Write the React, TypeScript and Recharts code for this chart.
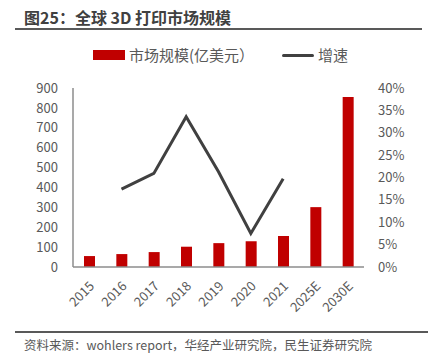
import React from "react";
import { ComposedChart, Bar, Line, XAxis, YAxis } from "recharts";

const categories = ["2015", "2016", "2017", "2018", "2019", "2020", "2021", "2025E", "2030E"];
const marketSize = [55, 65, 75, 102, 120, 130, 156, 301, 855];
const growth: (number | null)[] = [null, 0.174, 0.209, 0.336, 0.213, 0.075, 0.197, null, null];
const leftTicks = [0, 100, 200, 300, 400, 500, 600, 700, 800, 900];
const rightTicks = [0, 0.05, 0.1, 0.15, 0.2, 0.25, 0.3, 0.35, 0.4];

const data = categories.map((c, i) => ({ name: c, size: marketSize[i], growth: growth[i] }));

const FONT = "'Noto Sans CJK SC', 'Noto Sans', sans-serif";
const TICK_COLOR = "#595959";

const XTick = (props: any) => {
  const { x, y, payload } = props;
  return (
    <g transform={`translate(${x + 6},${y + 12})`}>
      <text
        x={0}
        y={0}
        textAnchor="end"
        transform="rotate(-45)"
        fill={TICK_COLOR}
        fontSize={13}
        fontFamily={FONT}
      >
        {payload.value}
      </text>
    </g>
  );
};

export default function App() {
  return (
    <div style={{ position: "absolute", left: 0, top: 0, width: 428, height: 354, background: "#fff", fontFamily: FONT }}>
      <div style={{ position: "absolute", left: 24, top: 6, fontSize: 16, fontWeight: "bold", color: "#404040", lineHeight: "22px", whiteSpace: "nowrap" }}>
        图25：全球 3D 打印市场规模
      </div>
      <div style={{ position: "absolute", left: 15, top: 28, width: 407, height: 2, background: "#595959" }} />
      <div style={{ position: "absolute", left: 93, top: 50, width: 32, height: 10, background: "#c00000" }} />
      <div style={{ position: "absolute", left: 129, top: 44, fontSize: 15, color: TICK_COLOR, lineHeight: "22px", whiteSpace: "nowrap" }}>
        市场规模(亿美元）
      </div>
      <div style={{ position: "absolute", left: 282, top: 54, width: 32, height: 3, background: "#404040", borderRadius: 1.5 }} />
      <div style={{ position: "absolute", left: 318, top: 44, fontSize: 15, color: TICK_COLOR, lineHeight: "22px", whiteSpace: "nowrap" }}>
        增速
      </div>
      <div style={{ position: "absolute", left: 0 }}>
        <ComposedChart width={428} height={354} data={data} margin={{ top: 88, right: 0, bottom: 0, left: 0 }}>
          <XAxis
            dataKey="name"
            height={87}
            interval={0}
            tickLine={false}
            axisLine={{ stroke: "#8c8c8c", strokeWidth: 1.5 }}
            tick={<XTick />}
          />
          <YAxis
            yAxisId="left"
            orientation="left"
            width={73}
            domain={[0, 900]}
            ticks={leftTicks}
            interval={0}
            tickLine={false}
            tickMargin={9}
            axisLine={{ stroke: "#8c8c8c", strokeWidth: 1.5 }}
            tick={{ fill: TICK_COLOR, fontSize: 13, fontFamily: FONT }}
          />
          <YAxis
            yAxisId="right"
            orientation="right"
            width={64}
            domain={[0, 0.4]}
            ticks={rightTicks}
            interval={0}
            tickLine={false}
            axisLine={false}
            tickMargin={8}
            tickFormatter={(v: number) => `${Math.round(v * 100)}%`}
            tick={{ fill: TICK_COLOR, fontSize: 13, fontFamily: FONT, textAnchor: "start" }}
          />
          <Bar yAxisId="left" dataKey="size" fill="#c00000" barSize={11} isAnimationActive={false} />
          <Line
            yAxisId="right"
            dataKey="growth"
            stroke="#404040"
            strokeWidth={3}
            dot={false}
            activeDot={false}
            connectNulls={false}
            isAnimationActive={false}
          />
        </ComposedChart>
      </div>
      <div style={{ position: "absolute", left: 15, top: 331, width: 413, height: 1.5, background: "#595959" }} />
      <div style={{ position: "absolute", left: 24, top: 336, fontSize: 12.5, color: TICK_COLOR, lineHeight: "18px", whiteSpace: "nowrap" }}>
        资料来源：wohlers report，华经产业研究院，民生证券研究院
      </div>
    </div>
  );
}
